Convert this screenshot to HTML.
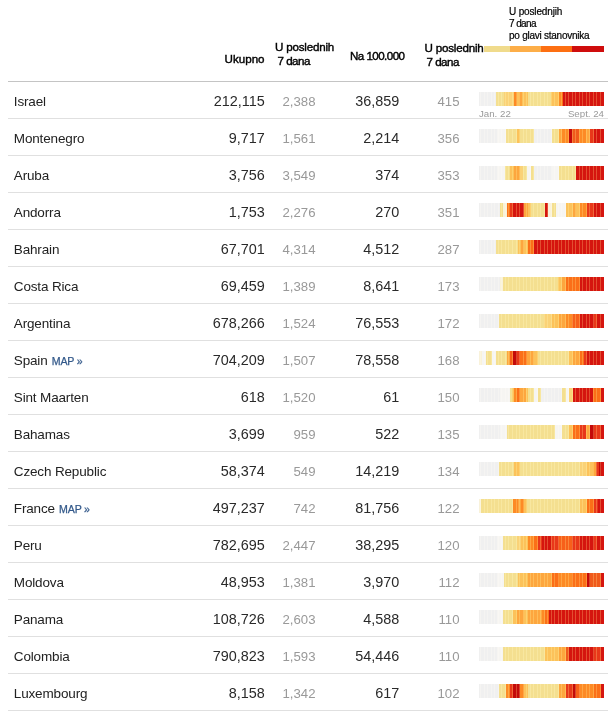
<!DOCTYPE html>
<html><head><meta charset="utf-8"><title>table</title>
<style>
html,body{margin:0;padding:0;background:#fff;}
body{width:616px;height:711px;position:relative;overflow:hidden;font-family:"Liberation Sans",sans-serif;color:#222;}
.abs{position:absolute;white-space:nowrap;}
.hl{position:absolute;left:8px;width:600px;height:1px;background:#e0e0e0;}
.hd{position:absolute;font-size:11.6px;line-height:14px;font-weight:normal;color:#000;white-space:nowrap;letter-spacing:-0.2px;-webkit-text-stroke:.4px #000}
.row{position:absolute;left:0;width:616px;height:37px;}
.nm{position:absolute;left:13.8px;top:12px;font-size:13.5px;line-height:18px;color:#222;white-space:nowrap;letter-spacing:-0.15px}
.n1,.n2{position:absolute;top:11px;font-size:14.4px;line-height:18px;color:#2a2a2a;text-align:right;letter-spacing:0}
.n1{right:351.3px}
.n2{right:216.8px}
.g1,.g2{position:absolute;top:13px;font-size:13.2px;line-height:16px;color:#999;text-align:right}
.g1{right:300.5px}
.g2{right:156.5px}
.st{position:absolute;left:479px;top:11px;width:125px;height:14px;}
.st i{position:absolute;left:0;top:0;width:125px;height:14px;mix-blend-mode:screen;background:repeating-linear-gradient(90deg,#000 0,#000 1.3px,rgb(84,62,36) 1.3px,rgb(84,62,36) 2.3px,#000 2.3px,#000 3.52px)}
.map{font-size:10.6px;color:#33598a;letter-spacing:-0.15px;margin-left:0.6px;-webkit-text-stroke:.25px #33598a}
.map b{font-weight:normal;margin-left:-0.4px;letter-spacing:-1px}
.lg{position:absolute;left:509px;font-size:10px;line-height:12px;color:#000;white-space:nowrap;-webkit-text-stroke:.2px #000}
.dt{position:absolute;font-size:9.7px;color:#999;top:26.5px;line-height:11px}
</style></head><body>
<div class="lg" style="top:6px;letter-spacing:-0.15px">U poslednjih</div>
<div class="lg" style="top:18px;letter-spacing:-0.6px">7 dana</div>
<div class="lg" style="top:30px;letter-spacing:-0.25px">po glavi stanovnika</div>
<div class="abs" style="left:484px;top:46px;width:120px;height:6px;background:linear-gradient(90deg,#f0db8c 0 26px,#fdae48 26px 57px,#fd6f12 57px 88px,#cf0d0d 88px 120px)"></div>
<div class="hd" style="left:224.6px;top:52px;letter-spacing:0">Ukupno</div>
<div class="hd" style="left:275px;top:39.5px">U poslednih</div>
<div class="hd" style="left:277.5px;top:54px;letter-spacing:-0.5px">7 dana</div>
<div class="hd" style="left:350px;top:49px;letter-spacing:-0.55px">Na 100.000</div>
<div class="hd" style="left:424.5px;top:41px">U poslednih</div>
<div class="hd" style="left:426.5px;top:55.3px;letter-spacing:-0.5px">7 dana</div>
<div class="hl" style="top:81px;background:#c4c4c4"></div>

<div class="row" style="top:81px"><div class="nm">Israel</div><div class="n1">212,115</div><div class="g1">2,388</div><div class="n2">36,859</div><div class="g2">415</div><div class="st" style="background:linear-gradient(90deg,#f0f0f0 0px 16.9px,#f4df90 16.9px 25.0px,#fad277 25.0px 35.1px,#fd8a25 35.1px 38.300000000000004px,#fcc25a 38.300000000000004px 40.50000000000001px,#fda63e 40.50000000000001px 43.00000000000001px,#fcc25a 43.00000000000001px 49.00000000000001px,#f4df90 49.00000000000001px 72.0px,#fcc25a 72.0px 80.4px,#fd8a25 80.4px 83.0px,#fb6f18 83.0px 84.3px,#d5150f 84.3px 125.0px)"><i></i></div><div class="dt" style="left:479px">Jan. 22</div><div class="dt" style="right:12px">Sept. 24</div></div>
<div class="hl" style="top:118px"></div>
<div class="row" style="top:118px"><div class="nm">Montenegro</div><div class="n1">9,717</div><div class="g1">1,561</div><div class="n2">2,214</div><div class="g2">356</div><div class="st" style="background:linear-gradient(90deg,#f0f0f0 0px 17.9px,#f6f5f2 17.9px 27.5px,#f4df90 27.5px 38.3px,#fcc25a 38.3px 40.9px,#f4df90 40.9px 55.4px,#f0f0f0 55.4px 72.8px,#f4df90 72.8px 79.8px,#fda63e 79.8px 83.5px,#fd8a25 83.5px 90.5px,#c40a0a 90.5px 93.2px,#f05a1c 93.2px 100.10000000000001px,#fd8a25 100.10000000000001px 107.10000000000001px,#fda63e 107.10000000000001px 110.80000000000001px,#e8381a 110.80000000000001px 114.60000000000001px,#d5150f 114.60000000000001px 125.00000000000001px)"><i></i></div></div>
<div class="hl" style="top:155px"></div>
<div class="row" style="top:155px"><div class="nm">Aruba</div><div class="n1">3,756</div><div class="g1">3,549</div><div class="n2">374</div><div class="g2">353</div><div class="st" style="background:linear-gradient(90deg,#f0f0f0 0px 17.9px,#f6f5f2 17.9px 26.5px,#f4df90 26.5px 31.3px,#fcc25a 31.3px 35.0px,#fda63e 35.0px 40.9px,#fad277 40.9px 44.199999999999996px,#f4df90 44.199999999999996px 48.4px,#f6f5f2 48.4px 52.199999999999996px,#f4df90 52.199999999999996px 55.4px,#f0f0f0 55.4px 72.8px,#f6f5f2 72.8px 80.3px,#f4df90 80.3px 96.9px,#d5150f 96.9px 125.0px)"><i></i></div></div>
<div class="hl" style="top:192px"></div>
<div class="row" style="top:192px"><div class="nm">Andorra</div><div class="n1">1,753</div><div class="g1">2,276</div><div class="n2">270</div><div class="g2">351</div><div class="st" style="background:linear-gradient(90deg,#f0f0f0 0px 20.6px,#f4df90 20.6px 23.6px,#f9f2da 23.6px 28.1px,#fb6f18 28.1px 31.5px,#e8381a 31.5px 34.0px,#d5150f 34.0px 44.7px,#fda63e 44.7px 49.0px,#fcc25a 49.0px 52.2px,#f4df90 52.2px 65.8px,#d5150f 65.8px 69.0px,#f9f2da 69.0px 73.3px,#f4df90 73.3px 77.1px,#f6f5f2 77.1px 86.69999999999999px,#fcc25a 86.69999999999999px 94.19999999999999px,#fda63e 94.19999999999999px 97.39999999999999px,#fcc25a 97.39999999999999px 100.69999999999999px,#fd8a25 100.69999999999999px 108.19999999999999px,#e8381a 108.19999999999999px 114.6px,#d5150f 114.6px 125.0px)"><i></i></div></div>
<div class="hl" style="top:229px"></div>
<div class="row" style="top:229px"><div class="nm">Bahrain</div><div class="n1">67,701</div><div class="g1">4,314</div><div class="n2">4,512</div><div class="g2">287</div><div class="st" style="background:linear-gradient(90deg,#f0f0f0 0px 16.9px,#f4df90 16.9px 38.8px,#fcc25a 38.8px 41.599999999999994px,#fda63e 41.599999999999994px 44.599999999999994px,#fcc25a 44.599999999999994px 48.89999999999999px,#fb6f18 48.89999999999999px 55.29999999999999px,#d5150f 55.29999999999999px 125.0px)"><i></i></div></div>
<div class="hl" style="top:266px"></div>
<div class="row" style="top:266px"><div class="nm">Costa Rica</div><div class="n1">69,459</div><div class="g1">1,389</div><div class="n2">8,641</div><div class="g2">173</div><div class="st" style="background:linear-gradient(90deg,#f0f0f0 0px 20.6px,#f9f2da 20.6px 24.400000000000002px,#f4df90 24.400000000000002px 79.5px,#fcc25a 79.5px 83.5px,#fda63e 83.5px 87.0px,#fb6f18 87.0px 100.9px,#d5150f 100.9px 125.0px)"><i></i></div></div>
<div class="hl" style="top:303px"></div>
<div class="row" style="top:303px"><div class="nm">Argentina</div><div class="n1">678,266</div><div class="g1">1,524</div><div class="n2">76,553</div><div class="g2">172</div><div class="st" style="background:linear-gradient(90deg,#f0f0f0 0px 20.1px,#f4df90 20.1px 65.30000000000001px,#fad277 65.30000000000001px 72.80000000000001px,#fcc25a 72.80000000000001px 79.80000000000001px,#fda63e 79.80000000000001px 86.70000000000002px,#fd8a25 86.70000000000002px 93.20000000000002px,#f7601a 93.20000000000002px 100.70000000000002px,#d5150f 100.70000000000002px 114.60000000000002px,#e8381a 114.60000000000002px 118.30000000000003px,#d5150f 118.30000000000003px 125.00000000000003px)"><i></i></div></div>
<div class="hl" style="top:340px"></div>
<div class="row" style="top:340px"><div class="nm">Spain <span class="map">MAP&nbsp;<b>»</b></span></div><div class="n1">704,209</div><div class="g1">1,507</div><div class="n2">78,558</div><div class="g2">168</div><div class="st" style="background:linear-gradient(90deg,#f9f2da 0px 2.9px,#f6f5f2 2.9px 7.199999999999999px,#f4df90 7.199999999999999px 13.1px,#f6f5f2 13.1px 16.8px,#f4df90 16.8px 28.1px,#fda63e 28.1px 31.3px,#f7601a 31.3px 34.5px,#c40a0a 34.5px 38.3px,#e8381a 38.3px 40.9px,#fb6f18 40.9px 47.9px,#fda63e 47.9px 55.4px,#fcc25a 55.4px 59.5px,#f4df90 59.5px 90.5px,#fcc25a 90.5px 94.2px,#fda63e 94.2px 100.7px,#fb6f18 100.7px 105.0px,#e8381a 105.0px 108.2px,#d5150f 108.2px 125.0px)"><i></i></div></div>
<div class="hl" style="top:377px"></div>
<div class="row" style="top:377px"><div class="nm">Sint Maarten</div><div class="n1">618</div><div class="g1">1,520</div><div class="n2">61</div><div class="g2">150</div><div class="st" style="background:linear-gradient(90deg,#f0f0f0 0px 21px,#f6f5f2 21px 30.8px,#f4df90 30.8px 33.4px,#fcc25a 33.4px 35.0px,#fd8a25 35.0px 38.3px,#fb6f18 38.3px 40.9px,#fda63e 40.9px 47.4px,#fcc25a 47.4px 49.0px,#f4df90 49.0px 55.4px,#f6f5f2 55.4px 59.199999999999996px,#f4df90 59.199999999999996px 62.4px,#f0f0f0 62.4px 83.0px,#f4df90 83.0px 86.7px,#f6f5f2 86.7px 90.5px,#fad277 90.5px 93.7px,#d5150f 93.7px 114.0px,#fb6f18 114.0px 122.1px,#d5150f 122.1px 125.0px)"><i></i></div></div>
<div class="hl" style="top:414px"></div>
<div class="row" style="top:414px"><div class="nm">Bahamas</div><div class="n1">3,699</div><div class="g1">959</div><div class="n2">522</div><div class="g2">135</div><div class="st" style="background:linear-gradient(90deg,#f0f0f0 0px 21px,#f6f5f2 21px 27.6px,#f4df90 27.6px 76.0px,#f6f5f2 76.0px 83.0px,#f4df90 83.0px 90.0px,#fcc25a 90.0px 93.7px,#fb6f18 93.7px 100.7px,#e8381a 100.7px 107.10000000000001px,#fda63e 107.10000000000001px 110.80000000000001px,#c40a0a 110.80000000000001px 114.60000000000001px,#e8381a 114.60000000000001px 121.60000000000001px,#d5150f 121.60000000000001px 125.00000000000001px)"><i></i></div></div>
<div class="hl" style="top:451px"></div>
<div class="row" style="top:451px"><div class="nm">Czech Republic</div><div class="n1">58,374</div><div class="g1">549</div><div class="n2">14,219</div><div class="g2">134</div><div class="st" style="background:linear-gradient(90deg,#f0f0f0 0px 20.1px,#f4df90 20.1px 35.1px,#fcc25a 35.1px 40.9px,#f4df90 40.9px 100.9px,#fad277 100.9px 108.5px,#fcc25a 108.5px 114.4px,#fda63e 114.4px 117.0px,#e8381a 117.0px 120.2px,#c40a0a 120.2px 122.3px,#d5150f 122.3px 125.0px)"><i></i></div></div>
<div class="hl" style="top:488px"></div>
<div class="row" style="top:488px"><div class="nm">France <span class="map">MAP&nbsp;<b>»</b></span></div><div class="n1">497,237</div><div class="g1">742</div><div class="n2">81,756</div><div class="g2">122</div><div class="st" style="background:linear-gradient(90deg,#f9f2da 0px 2.4px,#f4df90 2.4px 34.5px,#fd8a25 34.5px 38.8px,#fda63e 38.8px 41.599999999999994px,#fd8a25 41.599999999999994px 44.599999999999994px,#fcc25a 44.599999999999994px 48.39999999999999px,#f4df90 48.39999999999999px 100.89999999999999px,#fcc25a 100.89999999999999px 107.8px,#fb6f18 107.8px 114.89999999999999px,#e8381a 114.89999999999999px 119.1px,#d5150f 119.1px 125.0px)"><i></i></div></div>
<div class="hl" style="top:525px"></div>
<div class="row" style="top:525px"><div class="nm">Peru</div><div class="n1">782,695</div><div class="g1">2,447</div><div class="n2">38,295</div><div class="g2">120</div><div class="st" style="background:linear-gradient(90deg,#f0f0f0 0px 17.9px,#f6f5f2 17.9px 23.799999999999997px,#f4df90 23.799999999999997px 38.3px,#fad277 38.3px 42.0px,#fcc25a 42.0px 49.0px,#fd8a25 49.0px 55.4px,#fb6f18 55.4px 59.199999999999996px,#e8381a 59.199999999999996px 63.099999999999994px,#d5150f 63.099999999999994px 71.69999999999999px,#e8381a 71.69999999999999px 79.79999999999998px,#f7601a 79.79999999999998px 93.19999999999999px,#e8381a 93.19999999999999px 100.69999999999999px,#d5150f 100.69999999999999px 114.6px,#e8381a 114.6px 118.3px,#d5150f 118.3px 125.0px)"><i></i></div></div>
<div class="hl" style="top:562px"></div>
<div class="row" style="top:562px"><div class="nm">Moldova</div><div class="n1">48,953</div><div class="g1">1,381</div><div class="n2">3,970</div><div class="g2">112</div><div class="st" style="background:linear-gradient(90deg,#f0f0f0 0px 17.9px,#f6f5f2 17.9px 24.9px,#f4df90 24.9px 39.5px,#fcc25a 39.5px 48.7px,#fda63e 48.7px 72.80000000000001px,#fb6f18 72.80000000000001px 79.80000000000001px,#fd8a25 79.80000000000001px 93.20000000000002px,#fb6f18 93.20000000000002px 107.60000000000002px,#c40a0a 107.60000000000002px 111.40000000000002px,#f05a1c 111.40000000000002px 121.60000000000002px,#d5150f 121.60000000000002px 125.00000000000003px)"><i></i></div></div>
<div class="hl" style="top:599px"></div>
<div class="row" style="top:599px"><div class="nm">Panama</div><div class="n1">108,726</div><div class="g1">2,603</div><div class="n2">4,588</div><div class="g2">110</div><div class="st" style="background:linear-gradient(90deg,#f0f0f0 0px 17.9px,#f6f5f2 17.9px 23.799999999999997px,#f4df90 23.799999999999997px 34.0px,#fcc25a 34.0px 38.3px,#fda63e 38.3px 45.199999999999996px,#fcc25a 45.199999999999996px 48.99999999999999px,#fda63e 48.99999999999999px 62.599999999999994px,#fd8a25 62.599999999999994px 65.8px,#fb6f18 65.8px 69.6px,#d5150f 69.6px 125.0px)"><i></i></div></div>
<div class="hl" style="top:636px"></div>
<div class="row" style="top:636px"><div class="nm">Colombia</div><div class="n1">790,823</div><div class="g1">1,593</div><div class="n2">54,446</div><div class="g2">110</div><div class="st" style="background:linear-gradient(90deg,#f0f0f0 0px 17.9px,#f6f5f2 17.9px 23.799999999999997px,#f4df90 23.799999999999997px 65.8px,#fcc25a 65.8px 79.8px,#fda63e 79.8px 86.7px,#f05a1c 86.7px 90.5px,#d5150f 90.5px 114.6px,#e8381a 114.6px 121.6px,#d5150f 121.6px 125.0px)"><i></i></div></div>
<div class="hl" style="top:673px"></div>
<div class="row" style="top:673px"><div class="nm">Luxembourg</div><div class="n1">8,158</div><div class="g1">1,342</div><div class="n2">617</div><div class="g2">102</div><div class="st" style="background:linear-gradient(90deg,#f0f0f0 0px 20px,#f4df90 20px 27.5px,#fd8a25 27.5px 31.3px,#e8381a 31.3px 34.0px,#c40a0a 34.0px 40.9px,#fd8a25 40.9px 45.199999999999996px,#fcc25a 45.199999999999996px 48.99999999999999px,#f4df90 48.99999999999999px 79.8px,#fda63e 79.8px 86.7px,#e8381a 86.7px 93.7px,#c40a0a 93.7px 96.9px,#f7601a 96.9px 100.7px,#fd8a25 100.7px 114.60000000000001px,#fb6f18 114.60000000000001px 121.60000000000001px,#d5150f 121.60000000000001px 125.00000000000001px)"><i></i></div></div>
<div class="hl" style="top:710px"></div>
</body></html>
